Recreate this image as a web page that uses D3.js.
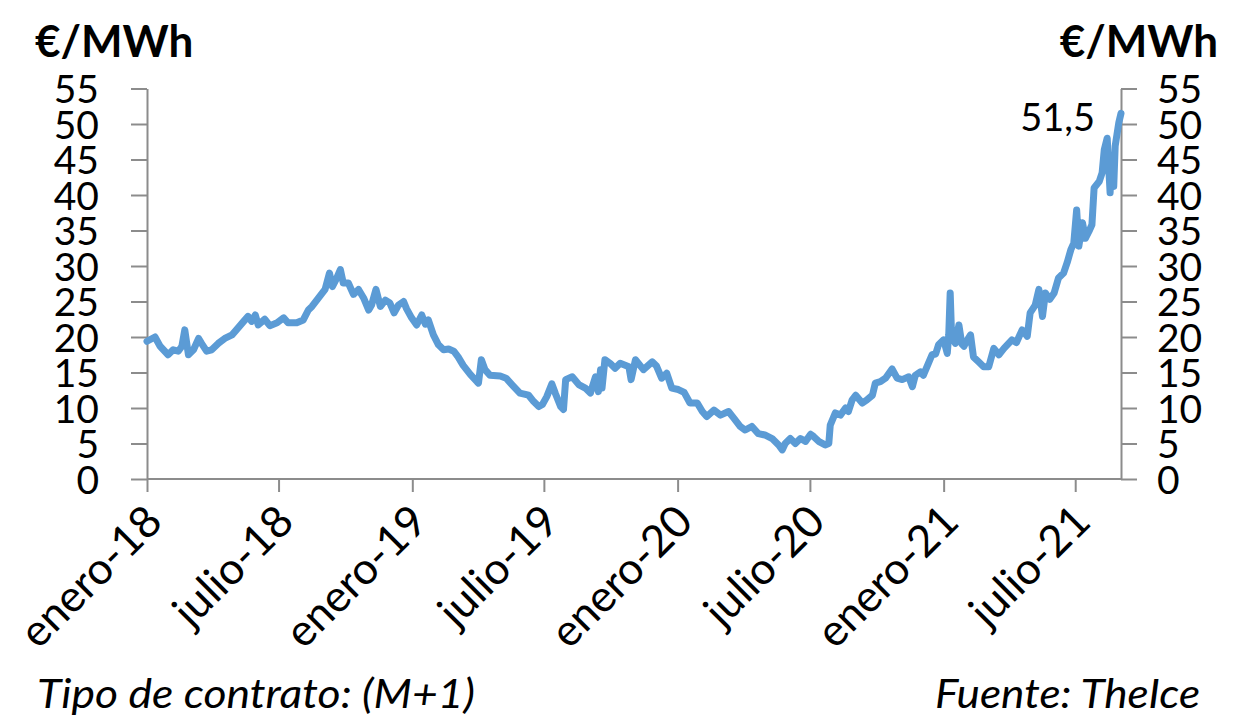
<!DOCTYPE html>
<html><head><meta charset="utf-8">
<script src="https://cdn.jsdelivr.net/npm/d3@7"></script>
<style>
html,body{margin:0;padding:0;background:#fff;}
text{font-family:Lato,"Open Sans",sans-serif;fill:#000;}
</style></head>
<body>
<svg id="c" width="1234" height="728"></svg>
<script>
const unitLabel = "€/MWh";
const yTicks = [0,5,10,15,20,25,30,35,40,45,50,55];
const xTickDates = ["2018-01-01","2018-07-01","2019-01-01","2019-07-01","2020-01-01","2020-07-01","2021-01-01","2021-07-01"];
const xTickLabels = ["enero-18","julio-18","enero-19","julio-19","enero-20","julio-20","enero-21","julio-21"];
const lastLabel = "51,5";
const footLeft = "Tipo de contrato: (M+1)";
const footRight = "Fuente: TheIce";

const dates = ["2018-01-01","2018-01-12","2018-01-19","2018-01-30","2018-02-06","2018-02-13","2018-02-18","2018-02-22","2018-02-27","2018-03-06",
"2018-03-13","2018-03-17","2018-03-24","2018-03-31","2018-04-09","2018-04-18","2018-04-28","2018-05-04","2018-05-14","2018-05-20",
"2018-05-25","2018-05-30","2018-06-03","2018-06-12","2018-06-19","2018-06-29","2018-07-08","2018-07-14","2018-07-26","2018-08-04",
"2018-08-11","2018-08-16","2018-08-25","2018-09-03","2018-09-09","2018-09-13","2018-09-19","2018-09-24","2018-09-28","2018-10-05",
"2018-10-12","2018-10-19","2018-10-26","2018-11-02","2018-11-06","2018-11-12","2018-11-18","2018-11-25","2018-12-01","2018-12-07",
"2018-12-13","2018-12-20","2018-12-24","2018-12-31","2019-01-07","2019-01-14","2019-01-19","2019-01-23","2019-01-30","2019-02-06",
"2019-02-13","2019-02-20","2019-02-27","2019-03-05","2019-03-12","2019-03-22","2019-03-31","2019-04-02","2019-04-06","2019-04-11",
"2019-04-18","2019-05-02","2019-05-10","2019-05-18","2019-05-29","2019-06-10","2019-06-17","2019-06-24","2019-06-29","2019-07-05",
"2019-07-12","2019-07-17","2019-07-24","2019-07-28","2019-07-31","2019-08-09","2019-08-18","2019-08-27","2019-09-03","2019-09-10",
"2019-09-14","2019-09-17","2019-09-19","2019-09-23","2019-09-30","2019-10-07","2019-10-14","2019-10-26","2019-10-29","2019-11-04",
"2019-11-15","2019-11-27","2019-12-03","2019-12-10","2019-12-17","2019-12-24","2020-01-02","2020-01-10","2020-01-18","2020-01-28",
"2020-02-04","2020-02-10","2020-02-20","2020-02-29","2020-03-11","2020-03-18","2020-03-27","2020-04-03","2020-04-12","2020-04-21",
"2020-04-30","2020-05-10","2020-05-19","2020-05-24","2020-05-28","2020-06-04","2020-06-11","2020-06-18","2020-06-25","2020-07-02",
"2020-07-06","2020-07-13","2020-07-22","2020-07-27","2020-07-29","2020-08-05","2020-08-12","2020-08-19","2020-08-23","2020-08-28",
"2020-09-02","2020-09-11","2020-09-17","2020-09-25","2020-09-29","2020-10-06","2020-10-13","2020-10-22","2020-10-29","2020-11-05",
"2020-11-14","2020-11-19","2020-11-23","2020-11-30","2020-12-04","2020-12-11","2020-12-16","2020-12-21","2020-12-25","2021-01-01",
"2021-01-06","2021-01-08","2021-01-10","2021-01-12","2021-01-17","2021-01-22","2021-01-26","2021-01-29","2021-02-02","2021-02-07",
"2021-02-11","2021-02-18","2021-02-25","2021-03-04","2021-03-11","2021-03-18","2021-03-25","2021-04-05","2021-04-11","2021-04-19",
"2021-04-26","2021-04-30","2021-05-07","2021-05-12","2021-05-17","2021-05-21","2021-05-27","2021-06-02","2021-06-08","2021-06-15",
"2021-06-20","2021-06-25","2021-06-29","2021-07-03","2021-07-06","2021-07-11","2021-07-15","2021-07-20","2021-07-24","2021-07-27",
"2021-08-03","2021-08-07","2021-08-10","2021-08-14","2021-08-18","2021-08-20","2021-08-23","2021-08-25","2021-08-30","2021-09-02"];
const prices = [19.4,20.0,18.7,17.5,18.2,18.0,18.7,21.0,17.5,18.2,
19.8,19.1,18.0,18.2,19.1,19.8,20.3,21.0,22.2,22.9,
22.2,23.1,21.7,22.5,21.6,22.0,22.7,22.0,22.0,22.4,
23.8,24.3,25.5,26.7,29.0,27.1,28.3,29.5,27.6,27.6,
26.0,26.7,25.5,23.8,24.5,26.7,24.3,25.2,24.8,23.4,
24.5,25.0,24.0,22.7,21.7,23.1,21.8,22.4,20.3,18.9,
18.2,18.3,18.0,17.2,16.0,14.7,13.7,13.5,16.8,15.4,
14.6,14.5,14.2,13.3,12.1,11.8,10.9,10.2,10.5,11.6,
13.4,12.0,10.2,9.8,14.0,14.4,13.3,12.8,12.1,14.4,
12.3,15.4,12.8,16.8,16.3,15.6,16.3,15.8,14.0,16.8,
15.4,16.5,15.9,14.2,14.9,12.8,12.6,12.2,10.7,10.7,
9.5,8.8,9.7,9.0,9.5,8.6,7.4,6.9,7.4,6.4,
6.2,5.7,4.8,4.1,5.0,5.7,5.0,5.7,5.3,6.3,
6.0,5.3,4.8,5.0,7.6,9.3,9.0,10.0,9.5,11.1,
11.8,10.7,11.1,11.8,13.5,13.7,14.2,15.5,14.2,14.0,
14.4,13.0,14.6,15.1,14.6,16.3,17.5,17.6,18.9,19.6,
17.7,20.3,26.2,20.0,19.1,21.7,19.0,18.7,19.5,20.3,
17.2,16.5,15.8,15.8,18.4,17.5,18.4,19.6,19.2,21.0,
20.1,23.4,24.5,26.7,22.9,26.2,25.3,26.2,28.3,29.0,
30.5,32.3,33.2,37.9,32.8,36.1,33.9,34.9,35.8,41.0,
41.9,43.1,46.4,48.0,40.3,45.0,41.2,46.9,50.2,51.5];

(function(){
const parse = d3.utcParse("%Y-%m-%d");
const data = dates.map((d,i)=>({date:parse(d), v:prices[i]}));

const svg = d3.select("#c");
const mLeft = 147, mRight = 1121, mTop = 88.5, mBottom = 479;
const x = d3.scaleUtc().domain([parse("2018-01-01"), parse("2021-09-02")]).range([mLeft, mRight]);
const y = d3.scaleLinear().domain([0,55]).range([mBottom, mTop]);
const axisColor = "#8c8c8c";

const yl = svg.append("g").attr("transform",`translate(${mLeft},0)`)
  .call(d3.axisLeft(y).tickValues(yTicks).tickSize(16).tickSizeOuter(0).tickFormat(d3.format("d")));
const yr = svg.append("g").attr("transform",`translate(${mRight},0)`)
  .call(d3.axisRight(y).tickValues(yTicks).tickSize(16).tickSizeOuter(0).tickFormat(d3.format("d")));
const xa = svg.append("g").attr("transform",`translate(0,${mBottom})`)
  .call(d3.axisBottom(x).tickValues(xTickDates.map(parse)).tickSize(13).tickSizeOuter(0).tickFormat((d,i)=>xTickLabels[i]));

[yl,yr,xa].forEach(g=>{
  g.selectAll("path.domain").attr("stroke",axisColor).attr("stroke-width",2);
  g.selectAll(".tick line").attr("stroke",axisColor).attr("stroke-width",2);
  g.selectAll("text").attr("font-family","Lato, 'Open Sans', sans-serif").attr("fill","#000");
});
yl.selectAll("text").attr("font-size",39).attr("x",-48).attr("dy","0.36em");
yr.selectAll("text").attr("font-size",39).attr("x",36).attr("dy","0.36em");
xa.selectAll("text").attr("font-size",44)
  .attr("text-anchor","end").attr("dy",0).attr("y",0)
  .attr("transform","translate(17,45) rotate(-45)");
xa.select("path.domain").attr("d",`M${mLeft},0H${mRight}`);

const line = d3.line().x(d=>x(d.date)).y(d=>y(d.v));
svg.append("path").datum(data).attr("d",line)
  .attr("fill","none").attr("stroke","#5B9BD5").attr("stroke-width",7)
  .attr("stroke-linejoin","round").attr("stroke-linecap","round");

const last = data[data.length-1];
svg.append("text").attr("x",x(last.date)-26).attr("y",y(last.v)+18)
  .attr("text-anchor","end").attr("font-size",38).text(lastLabel);

svg.append("text").attr("x",35).attr("y",57).attr("font-size",44).attr("font-weight","bold").text(unitLabel);
svg.append("text").attr("x",1218).attr("y",57).attr("font-size",44).attr("font-weight","bold").attr("text-anchor","end").text(unitLabel);

svg.append("text").attr("x",37).attr("y",708).attr("font-size",41).attr("font-family","'Open Sans', sans-serif").attr("font-style","italic")
  .attr("textLength",438).attr("lengthAdjust","spacingAndGlyphs").text(footLeft);
svg.append("text").attr("x",935).attr("y",708).attr("font-size",41).attr("font-family","'Open Sans', sans-serif").attr("font-style","italic")
  .attr("textLength",265).attr("lengthAdjust","spacingAndGlyphs").text(footRight);
})();
</script>
</body></html>
